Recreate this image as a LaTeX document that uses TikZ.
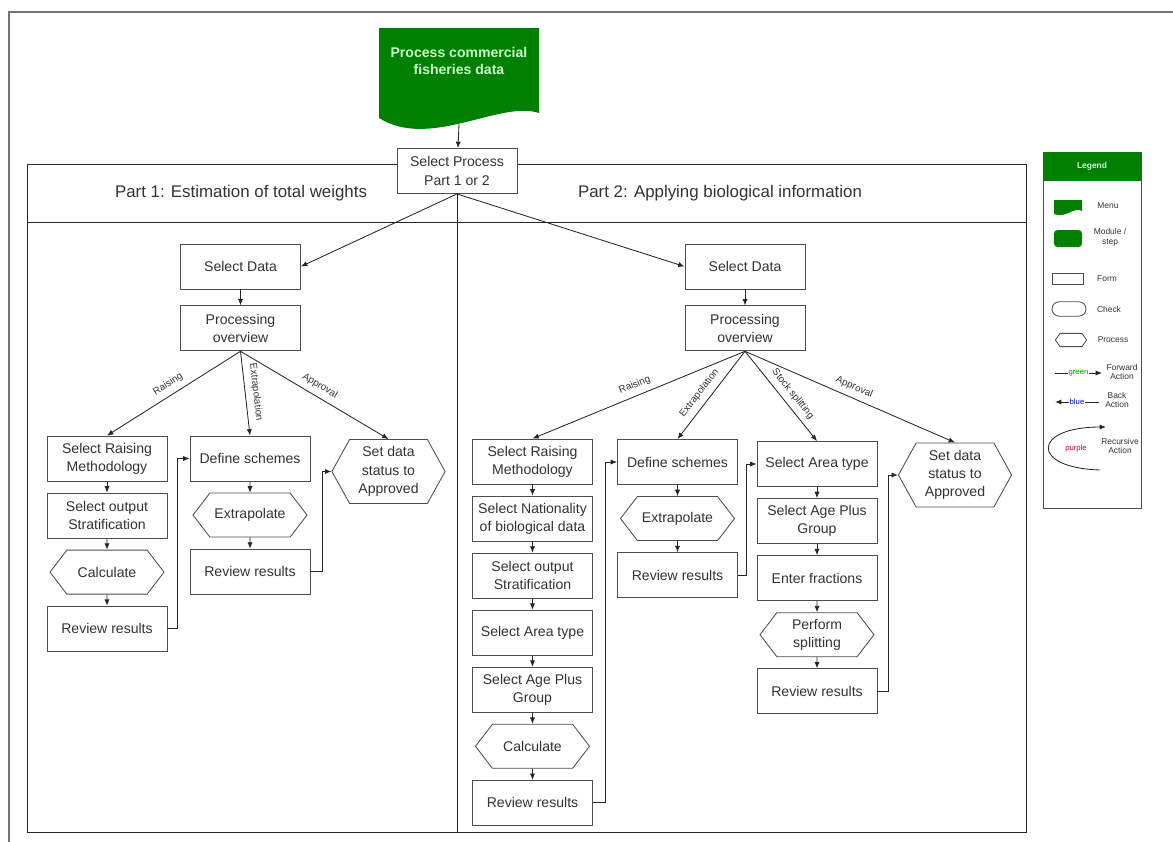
\documentclass[tikz,border=0pt]{standalone}
\usepackage{fontspec}
\setmainfont{Liberation Sans}
\usetikzlibrary{arrows.meta,positioning,shapes.symbols,shapes.misc}
\definecolor{menugreen}{HTML}{008000}
\definecolor{menutext}{HTML}{CCFFCC}
\definecolor{boxline}{HTML}{4D4D4D}
\definecolor{boxtext}{HTML}{333333}

\begin{document}
\begin{tikzpicture}[x=0.025cm, y=-0.025cm, node distance=0.28cm, line width=0.6pt,
  every node/.style={align=center, text=boxtext, font=\fontsize{10}{13}\selectfont},
  form/.style={draw=boxline, fill=white, minimum width=3cm, minimum height=1.125cm, inner sep=1pt},
  proc/.style={draw=boxline, fill=white, signal, signal to=east and west, signal pointer angle=105, minimum width=2.85cm, minimum height=1.1cm, inner sep=1pt},
  setproc/.style={proc, signal pointer angle=122, minimum width=2.83cm, minimum height=1.6cm},
  arr/.style={-{Latex[length=1.6mm,width=1.3mm]}, draw=black!85},
  lab/.style={font=\fontsize{7}{8}\selectfont, sloped, above, inner sep=4pt},
  lgtext/.style={font=\fontsize{6}{7}\selectfont, inner sep=0pt},
  lgword/.style={font=\fontsize{5.5}{6}\selectfont, fill=white, inner sep=0.5pt}]

  \useasboundingbox (0,0) rectangle (1173,842);
  \draw[black!55, line width=1pt] (1173,12) -- (9,12) -- (9,842);
  \draw[black!85] (27,164) rectangle (1026,832);
  \draw[black!85] (27,222) -- (1026,222);
  \coordinate (fbot) at (457,832);

  % menu
  \fill[menugreen] (379,28) -- (539,28) -- (539,113) .. controls (500,100) and (430,150) .. (379,118) -- cycle;
  \node[font=\bfseries\fontsize{10}{12.5}\selectfont, text=menutext] (menu) at (459,61) {Process commercial\\fisheries data};
  \coordinate (menubot) at (459,124);

  \node[form] (sp) at (457,171) {Select Process\\Part 1 or 2};
  \draw[arr] (menubot) -- (sp);
  \draw[black!85] (sp.south) -- (sp.south |- fbot);

  \node[font=\fontsize{12}{14}\selectfont] (part1) at (241,193) {Part 1: Estimation of total weights};
  \node[font=\fontsize{12}{14}\selectfont] (part2) at (720,193) {Part 2: Applying biological information};

  % part 1
  \node[form] (sdL) at (240.5,266.5) {Select Data};
  \node[form, below=0.4cm of sdL] (poL) {Processing\\overview};
  \node[form] (srmL) at (107,458.5) {Select Raising\\Methodology};
  \node[form, below=of srmL] (sosL) {Select output\\Stratification};
  \node[proc, below=of sosL] (calcL) {Calculate};
  \node[form, below=of calcL] (revL) {Review results};
  \node[form] (defL) at (250,458.5) {Define schemes};
  \node[proc, below=of defL] (extL) {Extrapolate};
  \node[form, below=of extL] (rev2L) {Review results};
  \node[setproc] (setL) at (388.5,471.5) {Set data\\status to\\Approved};

  \draw[arr] (sp.south) -- (sdL.east);
  \draw[arr] (sdL) -- (poL);
  \draw[arr] (poL.south) -- node[lab] {Raising} (srmL.north);
  \draw[arr] (poL.south) -- node[lab] {Extrapolation} (defL.north);
  \draw[arr] (poL.south) -- node[lab] {Approval} (setL.north);
  \draw[arr] (srmL) -- (sosL);
  \draw[arr] (sosL) -- (calcL);
  \draw[arr] (calcL) -- (revL);
  \draw[arr] (defL) -- (extL);
  \draw[arr] (extL) -- (rev2L);
  \draw[arr] (revL.east) -- ++(10,0) |- (defL.west);
  \draw[arr] (rev2L.east) -- ++(12,0) |- (setL.west);

  % part 2
  \node[form] (sdR) at (745,266.5) {Select Data};
  \node[form, below=0.4cm of sdR] (poR) {Processing\\overview};
  \node[form] (srmR) at (532.5,461.5) {Select Raising\\Methodology};
  \node[form, below=of srmR] (natR) {Select Nationality\\of biological data};
  \node[form, below=of natR] (sosR) {Select output\\Stratification};
  \node[form, below=of sosR] (areaR) {Select Area type};
  \node[form, below=of areaR] (ageR) {Select Age Plus\\Group};
  \node[proc, below=of ageR] (calcR) {Calculate};
  \node[form, below=of calcR] (revR) {Review results};
  \node[form] (defR) at (677.5,462) {Define schemes};
  \node[proc, below=of defR] (extR) {Extrapolate};
  \node[form, below=of extR] (rev2R) {Review results};
  \node[form] (areaS) at (817,464) {Select Area type};
  \node[form, below=of areaS] (ageS) {Select Age Plus\\Group};
  \node[form, below=of ageS] (fracS) {Enter fractions};
  \node[proc, below=of fracS] (splitS) {Perform\\splitting};
  \node[form, below=of splitS] (revS) {Review results};
  \node[setproc] (setR) at (955,475) {Set data\\status to\\Approved};

  \draw[arr] (sp.south) -- (sdR.west);
  \draw[arr] (sdR) -- (poR);
  \draw[arr] (poR.south) -- node[lab] {Raising} (srmR.north);
  \draw[arr] (poR.south) -- node[lab, pos=0.55] {Extrapolation} (defR.north);
  \draw[arr] (poR.south) -- node[lab, pos=0.55] {Stock splitting} (areaS.north);
  \draw[arr] (poR.south) -- node[lab] {Approval} (setR.north);
  \draw[arr] (srmR) -- (natR);
  \draw[arr] (natR) -- (sosR);
  \draw[arr] (sosR) -- (areaR);
  \draw[arr] (areaR) -- (ageR);
  \draw[arr] (ageR) -- (calcR);
  \draw[arr] (calcR) -- (revR);
  \draw[arr] (defR) -- (extR);
  \draw[arr] (extR) -- (rev2R);
  \draw[arr] (areaS) -- (ageS);
  \draw[arr] (ageS) -- (fracS);
  \draw[arr] (fracS) -- (splitS);
  \draw[arr] (splitS) -- (revS);
  \draw[arr] (revR.east) -- ++(12,0) |- (defR.west);
  \draw[arr] (rev2R.east) -- ++(8,0) |- (areaS.west);
  \draw[arr] (revS.east) -- ++(11,0) |- (setR.west);

  % legend
  \draw[boxline] (1043,152) rectangle (1141,508);
  \fill[menugreen] (1043,152) rectangle (1141,181);
  \node[font=\bfseries\fontsize{6}{7}\selectfont, text=menutext] (lgtitle) at (1092,166) {Legend};
  \fill[menugreen] (1054,200) -- (1082,200) -- (1082,211) .. controls (1074,206) and (1066,219) .. (1054,214) -- cycle;
  \node[lgtext] (lgmenu) at (1108,206) {Menu};
  \fill[menugreen, rounded corners=2.5pt] (1054,230) rectangle (1082,247);
  \node[lgtext] (lgmod) at (1110,237) {Module /\\step};
  \node[draw=boxline, minimum width=0.78cm, minimum height=0.26cm, inner sep=0pt] (lgform) at (1068,279) {};
  \node[lgtext] (lgformlab) at (1107,279) {Form};
  \node[draw=boxline, rounded rectangle, minimum width=0.85cm, minimum height=0.36cm, inner sep=0pt] (lgcheck) at (1069,309) {};
  \node[lgtext] (lgchecklab) at (1109,309) {Check};
  \node[draw=boxline, signal, signal to=east and west, signal pointer angle=110, minimum width=0.78cm, minimum height=0.33cm, inner sep=0pt] (lgproc) at (1071,340) {};
  \node[lgtext] (lgproclab) at (1113,340) {Process};
  \coordinate (fwa) at (1055,373);
  \coordinate (fwb) at (1102,373);
  \draw[arr] (fwa) -- node[lgword, text=green!60!black] {green} (fwb);
  \node[lgtext] (lgfwd) at (1122,372) {Forward\\Action};
  \coordinate (bka) at (1099,402);
  \coordinate (bkb) at (1055,402);
  \draw[arr] (bka) -- node[lgword, text=blue!80!black] {blue} (bkb);
  \node[lgtext] (lgback) at (1117,400) {Back\\Action};
  \coordinate (rca) at (1100,470);
  \coordinate (rcb) at (1106,427);
  \draw[arr] (rca) .. controls (1030,468) and (1032,427) .. (rcb);
  \node[lgword, text=purple] (lgpurple) at (1076,448) {purple};
  \node[lgtext] (lgrec) at (1120,446) {Recursive\\Action};
\end{tikzpicture}
\end{document}
